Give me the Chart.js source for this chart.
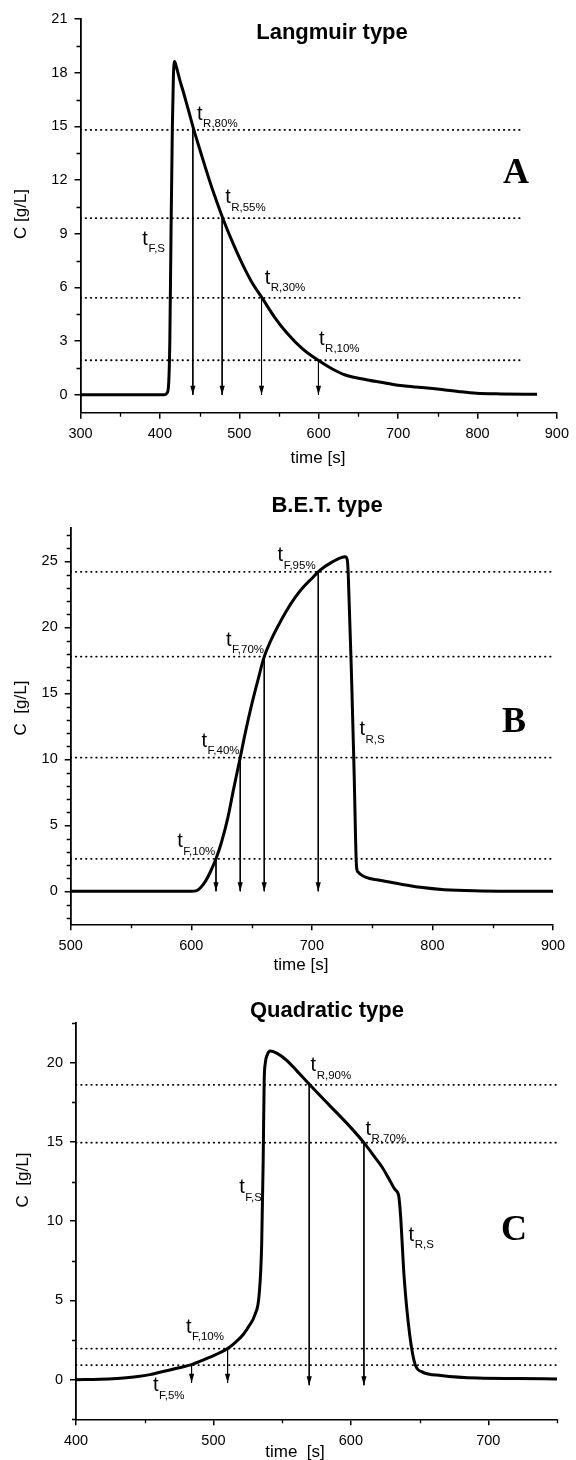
<!DOCTYPE html>
<html>
<head>
<meta charset="utf-8">
<script src="https://cdn.jsdelivr.net/npm/chart.js@4.4.0/dist/chart.umd.min.js"></script>
<style>
  html, body { margin: 0; padding: 0; background: #fff; }
  body { width: 576px; height: 1460px; position: relative; overflow: hidden; }
  canvas { position: absolute; left: 0; }
</style>
</head>
<body>
<canvas id="chartA" width="576" height="480" style="top:0"></canvas>
<canvas id="chartB" width="576" height="495" style="top:480px"></canvas>
<canvas id="chartC" width="576" height="485" style="top:975px"></canvas>
<script>
// ── Data: panel A (Langmuir type) ────────────────────────────────────────────
const timeA = [300, 350, 405, 409, 411, 412.5, 414, 415.7, 417, 418.6, 420, 425, 430, 436, 442.8, 450,
               458, 466, 479.2, 491.7, 505, 515, 528.9, 545, 560, 580, 600.4, 615, 632.6, 660, 685, 706,
               730, 755, 775.6, 798.7, 830, 875];
const concA = [0, 0, 0, 0.1, 0.6, 3, 9, 15, 17.8, 18.62, 18.45, 17.6, 16.85, 15.9, 14.8, 13.75,
               12.6, 11.5, 9.87, 8.5, 7.2, 6.35, 5.4, 4.3, 3.45, 2.55, 1.9, 1.5, 1.12, 0.84, 0.65, 0.5,
               0.41, 0.3, 0.19, 0.09, 0.05, 0.03];
const levelsA     = [14.8, 9.87, 5.42, 1.93];
const arrowTimesA = [441.5, 478.4, 528, 599.7];
const arrowTipsA  = [0, 0, 0, 0];
const xTicksA = [300, 400, 500, 600, 700, 800, 900];
const yTicksA = [0, 3, 6, 9, 12, 15, 18, 21];
const labelsA = [
  { sub: 'R,80%', t: 446.8, c: 15.36 },
  { sub: 'R,55%', t: 482.2, c: 10.7 },
  { sub: 'R,30%', t: 532,   c: 6.2 },
  { sub: 'R,10%', t: 600.4, c: 2.8 },
  { sub: 'F,S',   t: 377.9, c: 8.38 }
];

// ── Data: panel B (B.E.T. type) ──────────────────────────────────────────────
const timeB = [500, 560, 600, 604.5, 608, 612, 616, 620.5, 625, 630.4, 635, 640.6, 645, 650, 655, 660.5,
               666, 672, 679, 686, 693, 700, 705.3, 710, 716, 721, 725, 727.5, 729.4, 730.2, 733,
               735, 737.1, 738.5, 739.9, 745, 755, 773, 790, 810, 840, 870, 900];
const concB = [0, 0, 0, 0.05, 0.3, 0.8, 1.5, 2.46, 3.7, 5.6, 7.7, 10.13, 12.1, 14.1, 15.9, 17.78,
               19.0, 20.1, 21.25, 22.25, 23.05, 23.7, 24.2, 24.55, 24.9, 25.15, 25.3, 25.35, 25.1, 24.0, 16.0,
               9.2, 1.82, 1.45, 1.32, 1.05, 0.85, 0.56, 0.3, 0.12, 0.03, 0, 0];
const levelsB     = [24.2, 17.78, 10.13, 2.46];
const arrowTimesB = [705.3, 660.5, 640.6, 620.5];
const arrowTipsB  = [0, 0, 0, 0];
const xTicksB = [500, 600, 700, 800, 900];
const yTicksB = [0, 5, 10, 15, 20, 25];
const labelsB = [
  { sub: 'F,95%', t: 671.6, c: 25.0 },
  { sub: 'F,70%', t: 628.8, c: 18.6 },
  { sub: 'F,40%', t: 608.5, c: 10.94 },
  { sub: 'F,10%', t: 588.4, c: 3.34 },
  { sub: 'R,S',   t: 739.5, c: 11.83 }
];

// ── Data: panel C (Quadratic type) ───────────────────────────────────────────
const timeC = [400, 417.5, 430, 445, 453.8, 465, 475, 484.1, 497, 510.3, 516, 521.7, 526, 530.2, 533.3,
               535.1, 536.2, 536.9, 537.8, 539.2, 541.2, 546, 553.3, 561, 570.1, 580, 590.7, 600, 609.5,
               616, 622.8, 627.5, 632.1, 634.8, 636.1, 638.8, 642.8, 646.8, 652.2, 665.6, 692.4, 720, 750];
const concC = [0, 0.02, 0.08, 0.2, 0.32, 0.55, 0.75, 0.95, 1.4, 1.96, 2.35, 2.85, 3.4, 4.1, 5.4,
               8.5, 13.8, 18.7, 20.0, 20.5, 20.73, 20.6, 20.15, 19.45, 18.6, 17.7, 16.75, 15.9, 14.95,
               14.2, 13.4, 12.7, 12.0, 11.6, 10.44, 6.43, 2.85, 0.95, 0.48, 0.27, 0.1, 0.07, 0.05];
const levelsC     = [18.6, 14.95, 1.96, 0.92];
const arrowTimesC = [569.7, 609.5, 510.3, 484.1];
const arrowTipsC  = [-0.35, -0.35, -0.2, -0.2];
const xTicksC = [400, 500, 600, 700];
const yTicksC = [0, 5, 10, 15, 20];
const labelsC = [
  { sub: 'R,90%', t: 570.7, c: 19.45 },
  { sub: 'R,70%', t: 610.7, c: 15.46 },
  { sub: 'F,S',   t: 518.8, c: 11.75 },
  { sub: 'F,10%', t: 480,   c: 2.95 },
  { sub: 'F,5%',  t: 456,   c: -0.74 },
  { sub: 'R,S',   t: 642,   c: 8.75 }
];

const SANS  = '"Liberation Sans", Arial, Helvetica, sans-serif';
const SERIF = '"Liberation Serif", "Times New Roman", serif';

// ── Plugins ──────────────────────────────────────────────────────────────────
const minorTicks = {
  id: 'minorTicks',
  afterDraw(chart, args, o) {
    const { ctx, chartArea } = chart;
    const xs = chart.scales.x, ys = chart.scales.y;
    const isMajor = (v, list) => list.some(m => Math.abs(m - v) < 1e-6);
    ctx.save();
    ctx.strokeStyle = '#000';
    ctx.lineWidth = 1.3;
    ctx.beginPath();
    for (let v = Math.ceil(xs.min / o.x - 1e-9) * o.x; v <= xs.max + 1e-6; v += o.x) {
      if (isMajor(v, o.xMajor)) continue;
      const px = Math.round(xs.getPixelForValue(v)) + 0.5;
      ctx.moveTo(px, chartArea.bottom);
      ctx.lineTo(px, chartArea.bottom + 4);
    }
    for (let v = Math.ceil(ys.min / o.y - 1e-9) * o.y; v <= ys.max + 1e-6; v += o.y) {
      if (isMajor(v, o.yMajor)) continue;
      const py = Math.round(ys.getPixelForValue(v)) + 0.5;
      ctx.moveTo(chartArea.left, py);
      ctx.lineTo(chartArea.left - 4, py);
    }
    ctx.stroke();
    ctx.restore();
  }
};

const arrowHeads = {
  id: 'arrowHeads',
  afterDatasetsDraw(chart) {
    const ctx = chart.ctx;
    ctx.save();
    ctx.fillStyle = '#000';
    chart.data.datasets.forEach((ds, i) => {
      if (!ds.arrow) return;
      const tip = chart.getDatasetMeta(i).data[1];
      ctx.beginPath();
      ctx.moveTo(tip.x, tip.y);
      ctx.lineTo(tip.x - 2.6, tip.y - 9);
      ctx.lineTo(tip.x + 2.6, tip.y - 9);
      ctx.closePath();
      ctx.fill();
    });
    ctx.restore();
  }
};

const panelText = {
  id: 'panelText',
  afterDraw(chart, args, o) {
    const ctx = chart.ctx;
    const xs = chart.scales.x, ys = chart.scales.y;
    ctx.save();
    ctx.fillStyle = '#000';
    ctx.textAlign = 'center';
    ctx.textBaseline = 'alphabetic';
    ctx.font = 'bold 22px ' + SANS;
    ctx.fillText(o.title, o.titleX, o.titleY);
    ctx.font = 'bold 36px ' + SERIF;
    ctx.fillText(o.letter, o.letterX, o.letterY);

    ctx.font = '17px ' + SANS;
    ctx.textBaseline = 'middle';
    ctx.fillText(o.xTitle, o.xTitleX, o.xTitleY);
    ctx.save();
    ctx.translate(o.yTitleX, o.yTitleY);
    ctx.rotate(-Math.PI / 2);
    ctx.fillText(o.yTitle, 0, 0);
    ctx.restore();

    ctx.textAlign = 'left';
    ctx.textBaseline = 'alphabetic';
    o.labels.forEach(l => {
      const px = xs.getPixelForValue(l.t), py = ys.getPixelForValue(l.c);
      ctx.font = '20px ' + SANS;
      ctx.fillText('t', px, py);
      const w = ctx.measureText('t').width;
      ctx.font = '11.5px ' + SANS;
      ctx.fillText(l.sub, px + w + 0.5, py + 7.5);
    });
    ctx.restore();
  }
};

// ── Chart builder ────────────────────────────────────────────────────────────
const toXY = (xs, ys) => xs.map((x, i) => ({ x, y: ys[i] }));

function makePanel(id, p) {
  const datasets = [{
    data: toXY(p.time, p.conc),
    borderColor: '#000',
    borderWidth: 3,
    cubicInterpolationMode: 'monotone',
    pointRadius: 0,
    borderJoinStyle: 'round'
  }];
  p.levels.forEach(lv => datasets.push({
    data: [{ x: p.xMin, y: lv }, { x: p.dotEnd, y: lv }],
    borderColor: '#000',
    borderWidth: 1.8,
    borderDash: [0.5, 4.6],
    borderCapStyle: 'round',
    pointRadius: 0
  }));
  p.arrowTimes.forEach((t, i) => datasets.push({
    arrow: true,
    data: [{ x: t, y: p.arrowTops[i] }, { x: t, y: p.arrowTips[i] }],
    borderColor: '#000',
    borderWidth: 1,
    pointRadius: 0
  }));

  const tickFont = { family: SANS, size: 14.5 };
  return new Chart(document.getElementById(id), {
    type: 'line',
    data: { datasets },
    plugins: [minorTicks, arrowHeads, panelText],
    options: {
      responsive: false,
      animation: false,
      layout: { padding: p.padding },
      scales: {
        x: {
          type: 'linear', min: p.xMin, max: p.xMax,
          afterBuildTicks: s => { s.ticks = p.xTicks.map(v => ({ value: v })); },
          afterFit: s => { s.height = p.xHeight; },
          ticks: { color: '#000', font: tickFont, padding: 7, autoSkip: false, maxRotation: 0 },
          grid: { drawOnChartArea: false, drawTicks: true, tickLength: 6, color: '#000', lineWidth: 1.5 },
          border: { display: true, color: '#000', width: 1.6 }
        },
        y: {
          type: 'linear', min: p.yMin, max: p.yMax,
          afterBuildTicks: s => { s.ticks = p.yTicks.map(v => ({ value: v })); },
          afterFit: s => { s.width = 60; },
          ticks: { color: '#000', font: tickFont, padding: 7, autoSkip: false },
          grid: { drawOnChartArea: false, drawTicks: true, tickLength: 6, color: '#000', lineWidth: 1.5 },
          border: { display: true, color: '#000', width: 1.8 }
        }
      },
      plugins: {
        legend: { display: false },
        tooltip: { enabled: false },
        minorTicks: { x: 50, y: p.yMinor, xMajor: p.xTicks, yMajor: p.yTicks },
        panelText: p.text
      }
    }
  });
}

// ── Panels ───────────────────────────────────────────────────────────────────
makePanel('chartA', {
  time: timeA, conc: concA, levels: levelsA,
  arrowTimes: arrowTimesA, arrowTops: levelsA, arrowTips: arrowTipsA,
  xMin: 300, xMax: 900, yMin: -1, yMax: 21, dotEnd: 853,
  xTicks: xTicksA, yTicks: yTicksA, yMinor: 1.5,
  padding: { left: 20.5, right: 17, top: 19, bottom: 0 }, xHeight: 67.3,
  text: {
    title: 'Langmuir type', titleX: 332, titleY: 39,
    letter: 'A', letterX: 516, letterY: 183,
    xTitle: 'time [s]', xTitleX: 318, xTitleY: 458,
    yTitle: 'C [g/L]', yTitleX: 21, yTitleY: 214,
    labels: labelsA
  }
});

makePanel('chartB', {
  time: timeB, conc: concB, levels: levelsB,
  arrowTimes: arrowTimesB, arrowTops: levelsB, arrowTips: arrowTipsB,
  xMin: 500, xMax: 900, yMin: -2.5, yMax: 27.5, dotEnd: 900,
  xTicks: xTicksB, yTicks: yTicksB, yMinor: 1,
  padding: { left: 10.7, right: 23, top: 48.3, bottom: 0 }, xHeight: 50.7,
  text: {
    title: 'B.E.T. type', titleX: 327, titleY: 32,
    letter: 'B', letterX: 514, letterY: 252,
    xTitle: 'time [s]', xTitleX: 301, xTitleY: 485,
    yTitle: 'C  [g/L]', yTitleX: 21, yTitleY: 228,
    labels: labelsB
  }
});

makePanel('chartC', {
  time: timeC, conc: concC, levels: levelsC,
  arrowTimes: arrowTimesC, arrowTops: levelsC, arrowTips: arrowTipsC,
  xMin: 400, xMax: 750, yMin: -2.5, yMax: 22.5, dotEnd: 750,
  xTicks: xTicksC, yTicks: yTicksC, yMinor: 2.5,
  padding: { left: 16, right: 19, top: 48, bottom: 0 }, xHeight: 40.7,
  text: {
    title: 'Quadratic type', titleX: 327, titleY: 42,
    letter: 'C', letterX: 514, letterY: 265,
    xTitle: 'time  [s]', xTitleX: 295, xTitleY: 477,
    yTitle: 'C  [g/L]', yTitleX: 23, yTitleY: 205,
    labels: labelsC
  }
});
</script>
</body>
</html>
